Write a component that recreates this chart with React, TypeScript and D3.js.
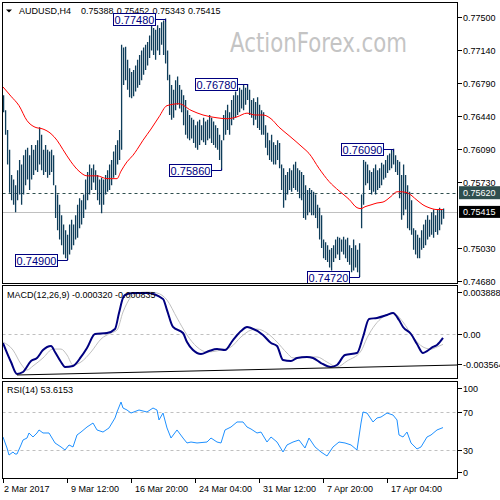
import React from "react";
import * as d3 from "d3";

const FONT = "'Liberation Sans', Arial, sans-serif";

const symbolTitle = "AUDUSD,H4";
const titleValues = ["0.75388", "0.75452", "0.75343", "0.75415"];

const highs = [
  0.7666, 0.7650, 0.7629, 0.7608, 0.7581, 0.7576, 0.7570, 0.7586, 0.7597, 0.7592,
  0.7602, 0.7608, 0.7610, 0.7602, 0.7613, 0.7608, 0.7613, 0.7618, 0.7632, 0.7624,
  0.7608, 0.7613, 0.7608, 0.7606, 0.7608, 0.7602, 0.7570, 0.7560, 0.7549, 0.7538,
  0.7528, 0.7522, 0.7517, 0.7528, 0.7533, 0.7528, 0.7538, 0.7549, 0.7556, 0.7554,
  0.7560, 0.7576, 0.7584, 0.7592, 0.7588, 0.7592, 0.7586, 0.7581, 0.7576, 0.7578,
  0.7576, 0.7581, 0.7586, 0.7592, 0.7597, 0.7606, 0.7613, 0.7618, 0.7629, 0.7720,
  0.7717, 0.7718, 0.7704, 0.7695, 0.7691, 0.7693, 0.7698, 0.7704, 0.7709, 0.7714,
  0.7717, 0.7720, 0.7723, 0.7730, 0.7744, 0.7738, 0.7736, 0.7741, 0.7738, 0.7744,
  0.7746, 0.7748, 0.7714, 0.7688, 0.7677, 0.7672, 0.7682, 0.7686, 0.7677, 0.7672,
  0.7666, 0.7661, 0.7650, 0.7645, 0.7642, 0.7640, 0.7634, 0.7638, 0.7640, 0.7634,
  0.7642, 0.7638, 0.7640, 0.7645, 0.7642, 0.7638, 0.7634, 0.7631, 0.7624, 0.7618,
  0.7645, 0.7650, 0.7656, 0.7648, 0.7661, 0.7666, 0.7670, 0.7666, 0.7674, 0.7672,
  0.7677, 0.7674, 0.7678, 0.7672, 0.7661, 0.7663, 0.7659, 0.7664, 0.7656, 0.7650,
  0.7648, 0.7634, 0.7626, 0.7618, 0.7624, 0.7616, 0.7613, 0.7618, 0.7615, 0.7592,
  0.7588, 0.7581, 0.7584, 0.7588, 0.7586, 0.7592, 0.7595, 0.7588, 0.7586, 0.7584,
  0.7581, 0.7570, 0.7565, 0.7567, 0.7565, 0.7563, 0.7560, 0.7549, 0.7546, 0.7538,
  0.7512, 0.7509, 0.7506, 0.7501, 0.7503, 0.7506, 0.7512, 0.7515, 0.7514, 0.7512,
  0.7515, 0.7512, 0.7514, 0.7506, 0.7503, 0.7512, 0.7506, 0.7501, 0.7508, 0.7560,
  0.7597, 0.7595, 0.7592, 0.7586, 0.7584, 0.7588, 0.7592, 0.7586, 0.7588, 0.7594,
  0.7592, 0.7597, 0.7602, 0.7604, 0.7608, 0.7609, 0.7602, 0.7597, 0.7595, 0.7581,
  0.7592, 0.7581, 0.7570, 0.7563, 0.7554, 0.7524, 0.7522, 0.7517, 0.7514, 0.7522,
  0.7528, 0.7533, 0.7538, 0.7533, 0.7541, 0.7544, 0.7538, 0.7544, 0.7546, 0.7544,
  0.75452,
];

const lows = [
  0.7648, 0.7624, 0.7592, 0.7562, 0.7554, 0.7549, 0.7541, 0.7554, 0.7560, 0.7549,
  0.7560, 0.7570, 0.7576, 0.7565, 0.7576, 0.7581, 0.7586, 0.7584, 0.7592, 0.7586,
  0.7581, 0.7584, 0.7578, 0.7581, 0.7584, 0.7570, 0.7535, 0.7522, 0.7512, 0.7506,
  0.7496, 0.7492, 0.7490, 0.7496, 0.7501, 0.7506, 0.7512, 0.7514, 0.7524, 0.7528,
  0.7535, 0.7544, 0.7554, 0.7560, 0.7565, 0.7573, 0.7565, 0.7554, 0.7549, 0.7540,
  0.7549, 0.7560, 0.7563, 0.7565, 0.7570, 0.7578, 0.7581, 0.7592, 0.7597, 0.7608,
  0.7677, 0.7682, 0.7672, 0.7664, 0.7663, 0.7665, 0.7670, 0.7674, 0.7677, 0.7682,
  0.7688, 0.7693, 0.7698, 0.7706, 0.7714, 0.7709, 0.7704, 0.7714, 0.7709, 0.7720,
  0.7709, 0.7700, 0.7682, 0.7645, 0.7640, 0.7642, 0.7650, 0.7656, 0.7652, 0.7648,
  0.7634, 0.7624, 0.7620, 0.7618, 0.7620, 0.7615, 0.7610, 0.7608, 0.7613, 0.7618,
  0.7616, 0.7613, 0.7618, 0.7620, 0.7615, 0.7613, 0.7610, 0.7608, 0.7597, 0.7586,
  0.7618, 0.7624, 0.7629, 0.7624, 0.7634, 0.7640, 0.7642, 0.7645, 0.7648, 0.7652,
  0.7650, 0.7656, 0.7661, 0.7645, 0.7642, 0.7634, 0.7640, 0.7631, 0.7629, 0.7624,
  0.7624, 0.7610, 0.7602, 0.7597, 0.7595, 0.7592, 0.7592, 0.7597, 0.7588, 0.7565,
  0.7546, 0.7554, 0.7560, 0.7565, 0.7563, 0.7567, 0.7565, 0.7563, 0.7556, 0.7554,
  0.7535, 0.7533, 0.7538, 0.7541, 0.7538, 0.7538, 0.7535, 0.7524, 0.7512, 0.7503,
  0.7492, 0.7490, 0.7488, 0.7482, 0.7479, 0.7488, 0.7492, 0.7496, 0.7490, 0.7499,
  0.7496, 0.7492, 0.7488, 0.7485, 0.7477, 0.7479, 0.7482, 0.7477, 0.7472, 0.7524,
  0.7549, 0.7570, 0.7572, 0.7565, 0.7560, 0.7563, 0.7560, 0.7565, 0.7567, 0.7570,
  0.7576, 0.7578, 0.7583, 0.7586, 0.7588, 0.7592, 0.7584, 0.7581, 0.7556, 0.7533,
  0.7538, 0.7544, 0.7524, 0.7522, 0.7517, 0.7501, 0.7496, 0.7492, 0.7492, 0.7501,
  0.7503, 0.7506, 0.7512, 0.7515, 0.7517, 0.7514, 0.7520, 0.7517, 0.7522, 0.7528,
  0.75343,
];

// moving average (red), read at bar indices
const maIdx = [0, 4, 8, 12, 16, 20, 24, 27, 30, 34, 38, 42, 47, 52, 57, 59, 62, 65, 67, 70, 74, 78, 82, 88, 94, 100, 107, 112, 117, 122, 126, 130, 134, 138, 143, 150, 153, 158, 163, 168, 173, 177, 179, 181, 184, 187, 190, 194, 197, 199, 202, 207, 210, 213, 217, 220];
const maVal = [0.7675, 0.7665, 0.7655, 0.7639, 0.7632, 0.7630, 0.7625, 0.7618, 0.7608, 0.7595, 0.7585, 0.7580, 0.7580, 0.7577, 0.7577, 0.7585, 0.7595, 0.7602, 0.7608, 0.7618, 0.7630, 0.7643, 0.7655, 0.7657, 0.7650, 0.7645, 0.7642, 0.7641, 0.7643, 0.7647, 0.7645, 0.7645, 0.7641, 0.7632, 0.7623, 0.7610, 0.7604, 0.7588, 0.7574, 0.7564, 0.7555, 0.7546, 0.7545, 0.7547, 0.7549, 0.7551, 0.7552, 0.7558, 0.7563, 0.7563, 0.7562, 0.7554, 0.7549, 0.7546, 0.7544, 0.7544];

const macdIdx = [0, 4, 7, 10, 14, 17, 20, 24, 26, 29, 31, 35, 39, 42, 46, 52, 56, 58, 60, 61, 65, 72, 80, 82, 85, 90, 92, 95, 99, 103, 107, 111, 115, 119, 122, 124, 130, 134, 137, 140, 144, 147, 152, 155, 159, 164, 167, 171, 177, 180, 183, 187, 192, 195, 198, 200, 204, 207, 210, 212, 215, 217, 220];
const macdVal = [-0.00073, -0.00227, -0.00324, -0.00308, -0.00219, -0.00194, -0.0013, -0.00097, -0.00146, -0.00227, -0.00267, -0.00259, -0.00186, -0.00113, 0.0, 0.00008, 0.00041, 0.0017, 0.00292, 0.00316, 0.00332, 0.00332, 0.00284, 0.00194, 0.00057, 0.00008, -0.00065, -0.0013, -0.00162, -0.00138, -0.00122, -0.0013, -0.00049, 0.00024, 0.00057, 0.00049, -0.00008, -0.00073, -0.00097, -0.00211, -0.00219, -0.00194, -0.00186, -0.00194, -0.00235, -0.00267, -0.00251, -0.0017, -0.00154, -0.00024, 0.00122, 0.0013, 0.00154, 0.0017, 0.00113, 0.00057, 0.0, -0.00081, -0.00154, -0.00138, -0.00105, -0.00089, -0.00032];

const signalIdx = [0, 5, 9, 12, 15, 20, 25, 29, 32, 35, 39, 44, 49, 54, 57, 60, 64, 67, 72, 77, 82, 87, 92, 97, 102, 109, 114, 119, 124, 127, 132, 137, 142, 145, 150, 157, 162, 167, 172, 179, 182, 186, 190, 195, 200, 205, 210, 214, 217, 220];
const signalVal = [-0.00065, -0.0013, -0.00243, -0.00292, -0.00259, -0.00194, -0.00122, -0.00122, -0.0017, -0.00251, -0.00227, -0.00146, -0.00041, 0.00008, 0.00032, 0.00178, 0.003, 0.00332, 0.0034, 0.00332, 0.00275, 0.0013, -0.00008, -0.00105, -0.00146, -0.0013, -0.00105, -0.00024, 0.00032, 0.0004, 0.00008, -0.00065, -0.00154, -0.00194, -0.00186, -0.00186, -0.00227, -0.00267, -0.00219, -0.00138, -0.00032, 0.00073, 0.00138, 0.0017, 0.00097, -0.00024, -0.00105, -0.00122, -0.00105, -0.00084];

// hand-drawn trendline on MACD window (bar index, value)
const trendIdx = [7, 227.5];
const trendVal = [-0.00332, -0.00251];

const rsiIdx = [0, 2, 3, 5, 6, 7, 9, 10, 12, 13, 15, 17, 18, 20, 23, 26, 29, 31, 33, 35, 37, 39, 42, 45, 47, 50, 53, 56, 57, 59, 60, 62, 64, 68, 72, 75, 77, 78, 80, 82, 84, 87, 90, 92, 94, 97, 102, 104, 107, 109, 111, 114, 117, 120, 122, 124, 127, 129, 132, 134, 137, 140, 142, 145, 148, 151, 153, 156, 159, 162, 165, 168, 171, 174, 177, 179, 180, 182, 185, 187, 189, 192, 195, 197, 198, 200, 202, 204, 207, 209, 212, 214, 217, 220];
const rsiVal = [43.7, 32.1, 24.7, 27.9, 25.8, 25.8, 35.3, 40.5, 42.6, 47.9, 43.7, 47.9, 51.1, 47.9, 47.9, 37.4, 33.2, 30.0, 35.3, 33.2, 45.8, 48.9, 54.2, 58.4, 51.1, 48.9, 53.2, 63.7, 70.0, 80.5, 74.2, 72.1, 68.9, 72.1, 70.0, 74.2, 72.1, 61.6, 68.9, 53.2, 42.6, 51.1, 42.6, 37.4, 38.4, 37.4, 38.4, 42.6, 38.4, 37.4, 51.1, 54.2, 59.5, 59.5, 54.2, 52.1, 47.9, 48.9, 38.4, 43.7, 38.4, 27.9, 35.3, 38.4, 40.5, 32.1, 42.6, 33.2, 27.9, 23.7, 33.2, 38.4, 37.4, 35.3, 30.0, 58.4, 70.0, 68.9, 59.5, 63.7, 64.7, 68.9, 66.8, 61.6, 45.8, 43.7, 48.9, 37.4, 31.1, 33.2, 43.7, 45.8, 51.1, 53.6];

const pivotIdx = [32, 81, 109, 122, 178, 195];
const pivotVal = [0.749, 0.7748, 0.7586, 0.7678, 0.7472, 0.7609];
const pivotIsHigh = [false, true, false, true, false, true];

const priceTicks = [0.775, 0.7714, 0.7679, 0.7644, 0.7609, 0.7573, 0.7503, 0.7468];
const alertLevel = 0.7562;
const lastPrice = 0.75415;

const macdTickVals = [0.003888, 0, -0.003564];
const macdTickLabels = ["0.003888", "0.00", "-0.003564"];
const macdTickY = [292, 334, 364];

const rsiTickLabels = ["100", "70", "30", "0"];
const rsiTickVals = [100, 70, 30, 0];
const rsiLevels = [70, 30];

const dateIdx = [0, 32, 64, 96, 128, 160, 192];
const dateLabels = ["2 Mar 2017", "9 Mar 12:00", "16 Mar 20:00", "24 Mar 04:00", "31 Mar 12:00", "7 Apr 20:00", "17 Apr 04:00"];

const macdTitle = "MACD(12,26,9) -0.000320 -0.000835";
const rsiTitle = "RSI(14) 53.6153";

export default function App() {
  const L = 2.5, R = 457.5;
  const mainTop = 2.5, mainBot = 283.5;
  const macdTop = 285.5, macdBot = 378.5;
  const rsiTop = 381.5, rsiBot = 478.5;

  const x = d3.scaleLinear().domain([0, 220]).range([3, 443]);
  const yP = d3.scaleLinear().domain([0.7468, 0.775]).range([280.7, 16.7]);
  const yM = d3.scaleLinear().domain([-0.003564, 0.003888]).range([378, 286]);
  const yR = d3.scaleLinear().domain([0, 100]).range([478.5, 383.5]);

  const maLine = d3.line<number>().x((_, i) => x(maIdx[i])).y((d) => yP(d)).curve(d3.curveMonotoneX);
  const macdLine = d3.line<number>().x((_, i) => x(macdIdx[i])).y((d) => yM(d)).curve(d3.curveMonotoneX);
  const sigLine = d3.line<number>().x((_, i) => x(signalIdx[i])).y((d) => yM(d)).curve(d3.curveMonotoneX);
  const rsiLine = d3.line<number>().x((_, i) => x(rsiIdx[i])).y((d) => yR(d));

  const barColor = "#0f3d5a";
  const navy = "#000080";

  return (
    <svg width={500} height={500} style={{ position: "absolute", left: 0, top: 0, background: "#fff" }} fontFamily={FONT}>
      <defs>
        <clipPath id="cMain"><rect x={L} y={mainTop} width={R - L} height={mainBot - mainTop} /></clipPath>
        <clipPath id="cMacd"><rect x={L} y={macdTop} width={R - L} height={macdBot - macdTop} /></clipPath>
        <clipPath id="cRsi"><rect x={L} y={rsiTop} width={R - L} height={rsiBot - rsiTop} /></clipPath>
      </defs>
      <rect x={0} y={0} width={500} height={500} fill="#fff" />

      {/* watermark */}
      <text x={230} y={52} fontSize={26} fill="#c4c4c4" textLength={177} lengthAdjust="spacingAndGlyphs" fontFamily="'DejaVu Sans', sans-serif">ActionForex.com</text>

      {/* title */}
      <polygon points="6,9.5 12,9.5 9,12.5" fill="#000" />
      <text x={19} y={14} fontSize={9} fill="#000">{symbolTitle}</text>
      {titleValues.map((t, i) => (
        <text key={t + i} x={81 + i * 35.7} y={14} fontSize={9} fill="#000">{t}</text>
      ))}

      {/* main panel */}
      <g clipPath="url(#cMain)">
        <line x1={L} x2={R} y1={Math.round(yP(lastPrice)) + 0.5} y2={Math.round(yP(lastPrice)) + 0.5} stroke="#c0c0c0" strokeWidth={1} />
        <line x1={L} x2={R} y1={Math.round(yP(alertLevel)) + 0.5} y2={Math.round(yP(alertLevel)) + 0.5} stroke="#2f4f4f" strokeWidth={1} strokeDasharray="3,3" />
        {highs.map((h, i) => {
          const xx = x(i) + 0.6;
          const y1 = yP(h), y2 = Math.max(yP(lows[i]), y1 + 1);
          return <line key={i} x1={xx} x2={xx} y1={y1} y2={y2} stroke={barColor} strokeWidth={1.3} />;
        })}
        <path d={maLine(maVal) || ""} fill="none" stroke="#ff0000" strokeWidth={1} />
      </g>

      {/* pivot labels */}
      {pivotIdx.map((pi, k) => {
        const bx = Math.round(x(pi)) + 0.5;
        const py = Math.round(yP(pivotVal[k])) + 0.5;
        const right = bx - 10;
        const w = 42, h = 12;
        const tickEnd = pivotIsHigh[k] ? py + 2 : py - 2;
        return (
          <g key={k}>
            <line x1={right} x2={bx} y1={py} y2={py} stroke={navy} strokeWidth={1} />
            <line x1={bx} x2={bx} y1={py} y2={tickEnd} stroke={navy} strokeWidth={1} />
            <rect x={right - w} y={py - h / 2} width={w} height={h} fill="#fff" stroke={navy} strokeWidth={1} />
            <text x={right - w / 2} y={py + 4} fontSize={11} fill={navy} textAnchor="middle">{pivotVal[k].toFixed(5)}</text>
          </g>
        );
      })}

      {/* price axis */}
      {priceTicks.map((p) => {
        const yy = Math.round(yP(p)) + 0.5;
        return (
          <g key={p}>
            <line x1={458} x2={462} y1={yy} y2={yy} stroke="#000" />
            <text x={463} y={yy + 3.5} fontSize={9} fill="#000">{p.toFixed(5)}</text>
          </g>
        );
      })}
      <rect x={459} y={yP(alertLevel) - 6.5} width={41} height={13} fill="#2f4f4f" />
      <text x={463} y={yP(alertLevel) + 3.5} fontSize={9} fill="#fff">{alertLevel.toFixed(5)}</text>
      <rect x={459} y={yP(lastPrice) - 6} width={41} height={12} fill="#000" />
      <text x={463} y={yP(lastPrice) + 3.5} fontSize={9} fill="#fff">{lastPrice.toFixed(5)}</text>

      {/* MACD */}
      <g clipPath="url(#cMacd)">
        <line x1={L} x2={R} y1={Math.round(yM(0)) + 0.5} y2={Math.round(yM(0)) + 0.5} stroke="#c0c0c0" strokeDasharray="3,3" />
        <path d={sigLine(signalVal) || ""} fill="none" stroke="#c0c0c0" strokeWidth={1} />
        <path d={macdLine(macdVal) || ""} fill="none" stroke={navy} strokeWidth={2} />
        <line x1={x(trendIdx[0])} y1={yM(trendVal[0])} x2={x(trendIdx[1])} y2={yM(trendVal[1])} stroke="#000" strokeWidth={1} />
      </g>
      <text x={7} y={298} fontSize={9} fill="#000">{macdTitle}</text>
      {macdTickVals.map((v, i) => (
        <g key={i}>
          <line x1={458} x2={462} y1={macdTickY[i] + 0.5} y2={macdTickY[i] + 0.5} stroke="#000" />
          <text x={463} y={macdTickY[i] + 3.5} fontSize={9} fill="#000">{macdTickLabels[i]}</text>
        </g>
      ))}

      {/* RSI */}
      <g clipPath="url(#cRsi)">
        {rsiLevels.map((lv) => (
          <line key={lv} x1={L} x2={R} y1={Math.round(yR(lv)) + 0.5} y2={Math.round(yR(lv)) + 0.5} stroke="#c0c0c0" strokeDasharray="3,3" />
        ))}
        <path d={rsiLine(rsiVal) || ""} fill="none" stroke="#1e90ff" strokeWidth={1} />
      </g>
      <text x={7} y={393} fontSize={9} fill="#000">{rsiTitle}</text>
      {rsiTickVals.map((v, i) => {
        const yy = Math.min(Math.max(yR(v), 388), 472);
        return (
          <g key={v}>
            <line x1={458} x2={462} y1={Math.round(yy) + 0.5} y2={Math.round(yy) + 0.5} stroke="#000" />
            <text x={463} y={yy + 3.5} fontSize={9} fill="#000">{rsiTickLabels[i]}</text>
          </g>
        );
      })}

      {/* panel frames */}
      <rect x={L} y={mainTop} width={R - L} height={mainBot - mainTop} fill="none" stroke="#000" />
      <rect x={L} y={macdTop} width={R - L} height={macdBot - macdTop} fill="none" stroke="#000" />
      <rect x={L} y={rsiTop} width={R - L} height={rsiBot - rsiTop} fill="none" stroke="#000" />

      {/* time axis */}
      {dateIdx.map((di, k) => {
        const xx = Math.round(x(di)) + 0.5;
        return (
          <g key={di}>
            <line x1={xx} x2={xx} y1={478.5} y2={483} stroke="#000" />
            <text x={k === 0 ? 4 : xx + 3.5} y={492} fontSize={9} fill="#000">{dateLabels[k]}</text>
          </g>
        );
      })}
    </svg>
  );
}
